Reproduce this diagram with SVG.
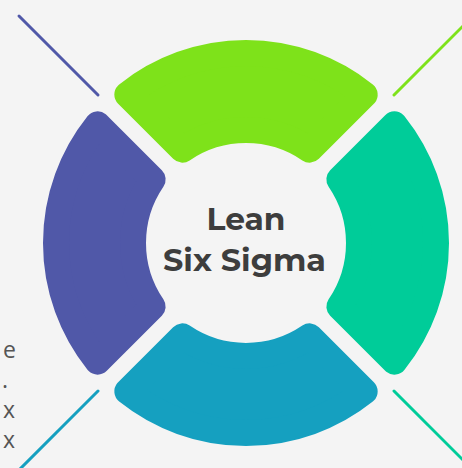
<svg xmlns="http://www.w3.org/2000/svg" width="462" height="468" viewBox="0 0 462 468">
  <defs>
    <path id="seg" d="M -118.68,-148.38 A 190 190 0 0 1 118.68,-148.38 L 63.66,-93.36 A 113 113 0 0 0 -63.66,-93.36 Z"/>
  </defs>
  <style>
    .seg { stroke-width: 26; stroke-linejoin: round; }
    .line { stroke-width: 3; stroke-linecap: round; fill: none; }
    .side { font-family: "Open Sans", "Liberation Sans", sans-serif; font-size: 23px; fill: #555555; text-anchor: end; }
    .title { font-family: Montserrat, "Open Sans", "Liberation Sans", sans-serif; font-weight: 700; font-size: 31px; fill: #3d3d3d; text-anchor: middle; }
  </style>
  <rect x="0" y="0" width="462" height="468" fill="#f4f4f4"/>
  <g id="side-text">
    <text class="side" x="16" y="358">e</text>
    <text class="side" x="8" y="388">.</text>
    <text class="side" x="15" y="418">x</text>
    <text class="side" x="15" y="448">x</text>
  </g>
  <g id="connectors" transform="translate(246,243)">
    <line class="line" stroke="#5058a8" x1="-148" y1="-148" x2="-227" y2="-227"/>
    <line class="line" stroke="#7ee21a" x1="148" y1="-148" x2="227" y2="-227"/>
    <line class="line" stroke="#00cc99" x1="148" y1="148" x2="227" y2="227"/>
    <line class="line" stroke="#15a0c0" x1="-148" y1="148" x2="-227" y2="227"/>
  </g>
  <g transform="translate(246,243)">
    <g id="segment-top"><use href="#seg" class="seg" fill="#7ee21a" stroke="#7ee21a"/></g>
    <g id="segment-right"><use href="#seg" class="seg" fill="#00cc99" stroke="#00cc99" transform="rotate(90)"/></g>
    <g id="segment-bottom"><use href="#seg" class="seg" fill="#15a0c0" stroke="#15a0c0" transform="rotate(180)"/></g>
    <g id="segment-left"><use href="#seg" class="seg" fill="#5058a8" stroke="#5058a8" transform="rotate(270)"/></g>
  </g>
  <g id="center">
    <text class="title" x="246" y="230" textLength="79" lengthAdjust="spacingAndGlyphs">Lean</text>
    <text class="title" x="244.5" y="271" textLength="163" lengthAdjust="spacingAndGlyphs">Six Sigma</text>
  </g>
</svg>
